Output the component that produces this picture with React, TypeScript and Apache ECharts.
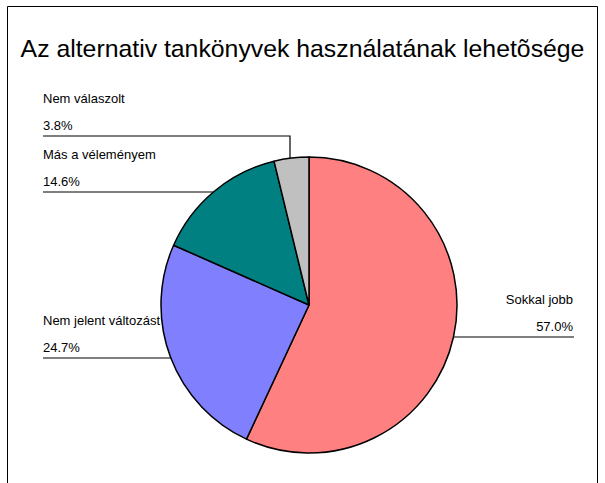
import React, { useEffect, useRef } from "react";
import * as echarts from "echarts";

const title = "Az alternativ tankönyvek használatának lehetõsége";
const categories = ["Sokkal jobb", "Nem jelent változást", "Más a véleményem", "Nem válaszolt"];
const values = [57.0, 24.7, 14.6, 3.8];
const colors = ["#FF8080", "#8080FF", "#008080", "#C0C0C0"];

const labelPlaces: any[] = [
  { x: 573, lineY: 337, x0: 574, ex: 453, ey: 337, align: "right" },
  { x: 43, lineY: 358, x0: 43, ex: 171, ey: 358, align: "left" },
  { x: 43, lineY: 192, x0: 43, ex: 213, ey: 192, align: "left" },
  { x: 43, lineY: 136, x0: 43, ex: 290, ey: 158, align: "left" },
];

export default function App() {
  const ref = useRef<HTMLDivElement>(null);
  useEffect(() => {
    if (!ref.current) return;
    const chart = echarts.init(ref.current, null, { renderer: "svg" });
    chart.setOption({
      animation: false,
      backgroundColor: "#ffffff",
      title: {
        text: title,
        left: "center",
        top: 31,
        textStyle: { fontFamily: "Liberation Sans", fontSize: 24.8, fontWeight: "normal", color: "#000" },
      },
      graphic: [
        {
          type: "rect",
          shape: { x: 7.5, y: 6.5, width: 590, height: 520 },
          style: { fill: "none", stroke: "#000", lineWidth: 1 },
          silent: true,
        },
      ],
      series: [
        {
          type: "pie",
          center: [309, 305],
          radius: 148,
          startAngle: 90,
          clockwise: true,
          data: categories.map((c, i) => ({
            name: c,
            value: values[i],
            itemStyle: { color: colors[i] },
          })),
          itemStyle: { borderColor: "#000", borderWidth: 1.5 },
          label: {
            show: true,
            overflow: "none",
            width: 300,
            formatter: (p: any) => `{n|${p.name}}\n{v|${p.value.toFixed(1)}%}`,
            rich: {
              n: { fontFamily: "Liberation Sans", fontSize: 13, color: "#000", lineHeight: 27 },
              v: { fontFamily: "Liberation Sans", fontSize: 13, color: "#000", lineHeight: 27 },
            },
          },
          labelLine: { show: true, lineStyle: { color: "#000", width: 1.2 } },
          labelLayout: (params: any) => {
            const L = labelPlaces[params.dataIndex];
            return {
              x: L.x,
              y: L.lineY + 3,
              align: L.align,
              verticalAlign: "bottom",
              labelLinePoints: [[L.ex, L.ey], [L.ex, L.lineY], [L.x0, L.lineY]],
            };
          },
        },
      ],
    });
    return () => chart.dispose();
  }, []);
  return (
    <div
      ref={ref}
      style={{ position: "absolute", left: 0, top: 0, width: 605, height: 483 }}
    />
  );
}
